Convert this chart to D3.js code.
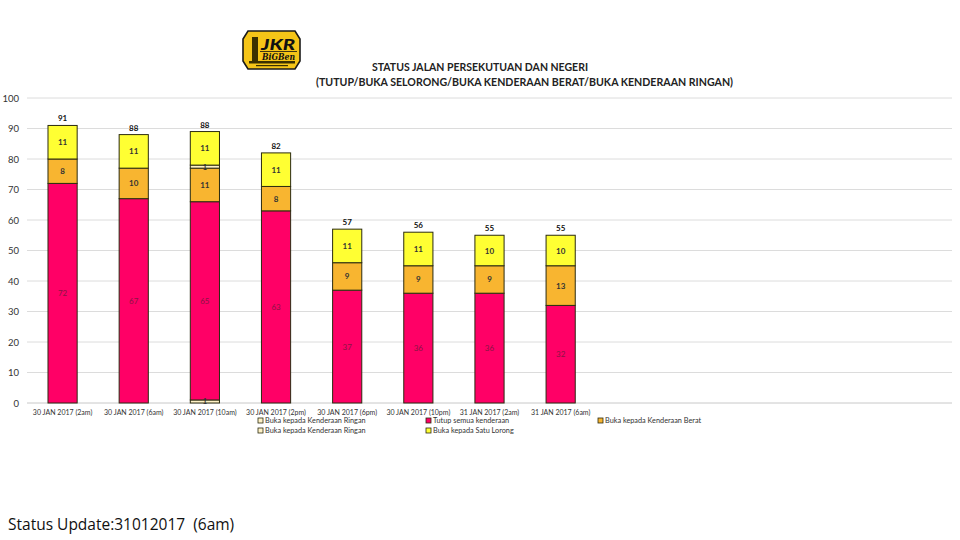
<!DOCTYPE html>
<html>
<head>
<meta charset="utf-8">
<script src="https://cdn.jsdelivr.net/npm/d3@7"></script>
<style>
  body { margin: 0; background: #fff; }
  svg { display: block; font-family: Lato, "Open Sans", sans-serif; }
</style>
</head>
<body>
<div id="chart"></div>
<script>
// Data
const categories = [
  "30 JAN 2017 (2am)", "30 JAN 2017 (6am)", "30 JAN 2017 (10am)", "30 JAN 2017 (2pm)",
  "30 JAN 2017 (6pm)", "30 JAN 2017 (10pm)", "31 JAN 2017 (2am)", "31 JAN 2017 (6am)"
];
const slots = 13; // the sheet leaves empty category slots to the right
const ringanA = [0, 0, 1, 0, 0, 0, 0, 0];
const tutup   = [72, 67, 65, 63, 37, 36, 36, 32];
const berat   = [8, 10, 11, 8, 9, 9, 9, 13];
const ringanB = [0, 0, 1, 0, 0, 0, 0, 0];
const lorong  = [11, 11, 11, 11, 11, 11, 10, 10];
const totals  = [91, 88, 88, 82, 57, 56, 55, 55];
const yTicks  = [0, 10, 20, 30, 40, 50, 60, 70, 80, 90, 100];
const seriesNames = [
  "Buka kepada Kenderaan Ringan", "Tutup semua kenderaan", "Buka kepada Kenderaan Berat",
  "Buka kepada Kenderaan Ringan", "Buka kepada Satu Lorong"
];
const seriesColors = ["#fff2c6", "#ff0066", "#f8b530", "#fff2c6", "#ffff33"];
const labelColors  = ["#333", "#8a1444", "#333", "#333", "#333"];

const W = 960, H = 540;
const margin = {top: 98, right: 8, bottom: 137, left: 27};
const width = W - margin.left - margin.right,
      height = H - margin.top - margin.bottom;

const svg = d3.select("#chart").append("svg")
  .attr("width", W).attr("height", H);

// Logo
const logo = svg.append("g");
logo.append("path")
  .attr("d", "M248,31 L295,31 L300,39 L300,61 L295,69 L248,69 L243,61 L243,39 Z")
  .attr("fill", "#f5c518").attr("stroke", "#1a1a1a").attr("stroke-width", 1.6);
logo.append("rect").attr("x", 252).attr("y", 37).attr("width", 6).attr("height", 24).attr("fill", "#3a3000");
logo.append("rect").attr("x", 249).attr("y", 61).attr("width", 46).attr("height", 2.5).attr("fill", "#3a3000");
logo.append("rect").attr("x", 256).attr("y", 65).attr("width", 32).attr("height", 1.2).attr("fill", "#3a3000");
logo.append("text").attr("x", 261).attr("y", 50)
  .attr("font-size", 15).attr("font-weight", 900).attr("font-style", "italic").attr("fill", "#111")
  .attr("textLength", 34).attr("lengthAdjust", "spacingAndGlyphs")
  .text("JKR");
logo.append("text").attr("x", 262).attr("y", 59.5)
  .attr("font-size", 9).attr("font-style", "italic").attr("font-weight", 700).attr("fill", "#111")
  .attr("font-family", "'DejaVu Serif', serif")
  .attr("textLength", 33).attr("lengthAdjust", "spacingAndGlyphs")
  .text("BiGBen");
logo.append("line").attr("x1", 260).attr("x2", 297).attr("y1", 51.5).attr("y2", 51.5)
  .attr("stroke", "#111").attr("stroke-width", 0.8);

// Title
svg.append("text").attr("x", 372).attr("y", 71)
  .attr("font-size", 10.5).attr("font-weight", 700).attr("fill", "#222")
  .attr("textLength", 216).attr("lengthAdjust", "spacingAndGlyphs")
  .text("STATUS JALAN PERSEKUTUAN DAN NEGERI");
svg.append("text").attr("x", 316).attr("y", 86)
  .attr("font-size", 10.5).attr("font-weight", 700).attr("fill", "#222")
  .attr("textLength", 417).attr("lengthAdjust", "spacingAndGlyphs")
  .text("(TUTUP/BUKA SELORONG/BUKA KENDERAAN BERAT/BUKA KENDERAAN RINGAN)");

const g = svg.append("g").attr("transform", `translate(${margin.left},${margin.top})`);

// Scales
const x = d3.scaleBand()
  .domain(d3.range(slots))
  .range([0, width])
  .paddingInner(0.59).paddingOuter(0.295);
const y = d3.scaleLinear().domain([0, 100]).range([height, 0]);

// Gridlines
g.append("g")
  .selectAll("line")
  .data(yTicks)
  .join("line")
  .attr("x1", 0).attr("x2", width)
  .attr("y1", d => y(d)).attr("y2", d => y(d))
  .attr("stroke", d => d === 0 ? "#c8c8c8" : "#dcdcdc")
  .attr("stroke-width", 1);

// Y axis
const yAxis = g.append("g")
  .call(d3.axisLeft(y).tickValues(yTicks).tickSize(0).tickPadding(8));
yAxis.select(".domain").remove();
yAxis.selectAll("text").attr("font-size", 9.5).attr("fill", "#333").attr("font-family", "Lato, sans-serif");

// X axis
const xAxis = g.append("g")
  .attr("transform", `translate(0,${height})`)
  .call(d3.axisBottom(x).tickSize(0).tickPadding(7)
    .tickFormat(i => categories[i] || ""));
xAxis.select(".domain").remove();
xAxis.selectAll("text").attr("font-size", 7).attr("fill", "#333").attr("font-family", "Lato, sans-serif");

// Stack
const rows = categories.map((c, i) => ({
  i, s0: ringanA[i], s1: tutup[i], s2: berat[i], s3: ringanB[i], s4: lorong[i]
}));
const keys = ["s0", "s1", "s2", "s3", "s4"];
const stacked = d3.stack().keys(keys)(rows);

const layers = g.append("g")
  .selectAll("g")
  .data(stacked)
  .join("g")
  .attr("fill", (d, k) => seriesColors[k]);

layers.selectAll("rect")
  .data(d => d.filter(p => p[1] - p[0] > 0))
  .join("rect")
  .attr("x", p => x(p.data.i))
  .attr("width", x.bandwidth())
  .attr("y", p => y(p[1]))
  .attr("height", p => y(p[0]) - y(p[1]))
  .attr("stroke", "#2b2b10")
  .attr("stroke-width", 1);

// Segment labels
stacked.forEach((layer, k) => {
  g.append("g")
    .selectAll("text")
    .data(layer.filter(p => p[1] - p[0] > 0))
    .join("text")
    .attr("x", p => x(p.data.i) + x.bandwidth() / 2)
    .attr("y", p => y((p[0] + p[1]) / 2) + 3)
    .attr("text-anchor", "middle")
    .attr("font-size", 8)
    .attr("font-weight", k === 1 ? 400 : 700)
    .attr("fill", labelColors[k])
    .text(p => p[1] - p[0]);
});

// Totals
g.append("g")
  .selectAll("text")
  .data(rows)
  .join("text")
  .attr("x", d => x(d.i) + x.bandwidth() / 2)
  .attr("y", d => y(d3.sum(keys, k => d[k])) - 4)
  .attr("text-anchor", "middle")
  .attr("font-size", 8)
  .attr("font-weight", 700)
  .attr("fill", "#111")
  .text(d => totals[d.i]);

// Legend
const legendPos = [[258, 423], [426, 423], [598, 423], [258, 433], [426, 433]];
const legend = svg.append("g")
  .selectAll("g")
  .data(seriesNames)
  .join("g")
  .attr("transform", (d, k) => `translate(${legendPos[k][0]},${legendPos[k][1]})`);
legend.append("rect")
  .attr("x", 0).attr("y", -5).attr("width", 5).attr("height", 5)
  .attr("fill", (d, k) => seriesColors[k])
  .attr("stroke", "#2b2b10").attr("stroke-width", 0.8);
legend.append("text")
  .attr("x", 7).attr("y", 0)
  .attr("font-size", 7.3).attr("fill", "#333")
  .text(d => d);

// Footer
svg.append("text").attr("x", 8).attr("y", 530)
  .attr("font-size", 15.5).attr("fill", "#111")
  .attr("font-family", "'Open Sans', sans-serif")
  .style("white-space", "pre")
  .text("Status Update:31012017  (6am)");
</script>
</body>
</html>
